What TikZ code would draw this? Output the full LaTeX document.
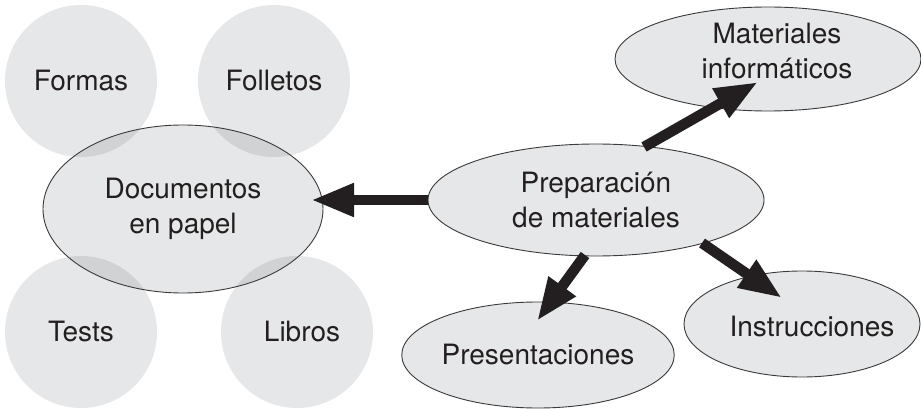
\documentclass[tikz,border=0pt]{standalone}
\usepackage{fontspec}
\setmainfont{TeX Gyre Heros}
\usetikzlibrary{shapes.geometric,arrows.meta,calc}
\definecolor{lg}{HTML}{E6E7E8}
\definecolor{og}{HTML}{D1D2D4}
\definecolor{tx}{HTML}{231F20}
\definecolor{bd}{HTML}{3A3A3A}
\begin{document}
\begin{tikzpicture}[x=1pt,y=-1pt,
  circ/.style={circle,fill=lg,minimum size=152pt,inner sep=0pt,text=tx,font=\fontsize{28}{35}\selectfont},
  ell/.style={ellipse,fill=lg,draw=bd,line width=0.9pt,inner sep=0pt,text=tx,align=center,font=\fontsize{28}{35}\selectfont},
  txt/.style={text=tx,font=\fontsize{28}{35}\selectfont,align=center,inner sep=0pt},
  arr/.style={line width=10.5pt,draw=tx,-{Triangle[length=43pt,width=31pt,fill=tx]}}]
\useasboundingbox (0,0) rectangle (921,409);
% circles
\node[circ] (formas) at (81,81) {Formas};
\node[circ] (folletos) at (274,81) {Folletos};
\node[circ] (tests) at (81,332) {Tests};
\node[circ] (libros) at (297,332) {};
\node[txt] (librosT) at (302,332) {Libros};
% documentos ellipse fill
\fill[lg] (183,209) ellipse [x radius=140pt, y radius=84pt];
\begin{scope}
  \clip (183,209) ellipse [x radius=140pt, y radius=84pt];
  \fill[og] (formas.center) circle [radius=76pt];
  \fill[og] (folletos.center) circle [radius=76pt];
  \fill[og] (tests.center) circle [radius=76pt];
  \fill[og] (libros.center) circle [radius=76pt];
\end{scope}
\node[ell,fill=none,minimum width=280pt,minimum height=168pt] (docs) at (183,209) {Documentos\\en papel};
% other ellipses
\node[ell,minimum width=336pt,minimum height=112pt] (prep) at (596,200) {Preparación\\de materiales};
\node[ell,minimum width=306pt,minimum height=104pt] (mat) at (768,59) {};
\node[txt] (matT) at (777,51) {Materiales\\informáticos};
\node[ell,minimum width=234pt,minimum height=106pt] (pres) at (538,355) {Presentaciones};
\node[ell,minimum width=236pt,minimum height=106pt] (instr) at (802,324) {};
\node[txt] (instrT) at (812,327) {Instrucciones};
% arrows
\draw[arr] ($(prep.center)+(-168,0)$) -- ($(docs.center)+(128,-9)$);
\draw[arr] ($(prep.center)+(48,-53)$) -- ($(mat.center)+(-10,23)$);
\draw[arr] ($(prep.center)+(106,43)$) -- ($(instr.center)+(-20,-26)$);
\draw[arr] ($(prep.center)+(-11,55)$) -- ($(pres.center)+(-1,-34)$);
\end{tikzpicture}
\end{document}
